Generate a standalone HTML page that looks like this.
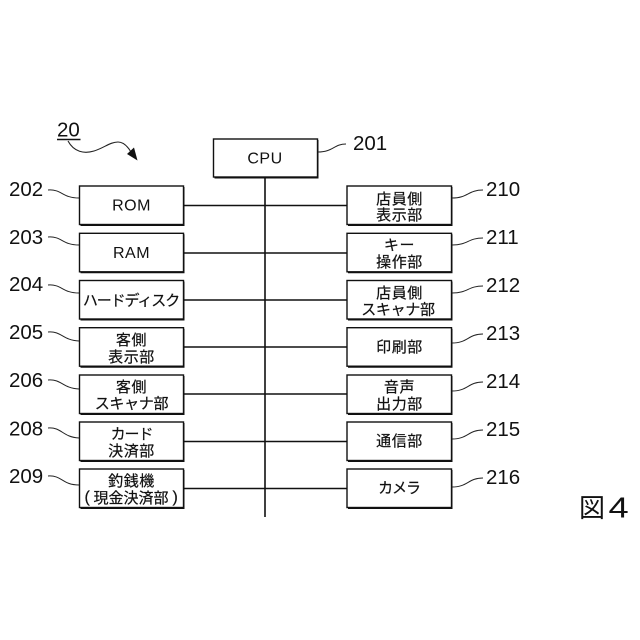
<!DOCTYPE html>
<html><head><meta charset="utf-8"><style>
html,body{margin:0;padding:0;background:#fff}
svg{display:block}
text{font-family:"Liberation Sans","Noto Sans CJK JP",sans-serif;fill:#111}
.b{fill:#fff;stroke:#111;stroke-width:1.4}
.s{fill:none;stroke:#111;stroke-width:1.6}
.w{fill:none;stroke:#222;stroke-width:1}
.n{font-size:20.5px}
.t{font-size:16px;text-anchor:middle;letter-spacing:.5px}
.j{font-size:15px;text-anchor:middle;letter-spacing:.6px;stroke:#111;stroke-width:.2}
.k{font-size:15px;text-anchor:middle;letter-spacing:-.3px;stroke:#111;stroke-width:.2}
.c{font-size:15px;text-anchor:middle;letter-spacing:-1.100px;stroke:#111;stroke-width:.2}
</style></head><body>
<svg width="640" height="640" viewBox="0 0 640 640" xmlns="http://www.w3.org/2000/svg">
<rect width="640" height="640" fill="#fff"/>
<path class="s" d="M265 178V517M184 205.500H347M184 253H347M184 300H347M184 347H347M184 394H347M184 441.500H347M184 488.500H347"/>
<g id="boxes">
<path fill="#111" d="M214.500 140h104v38.500h-104zM80.500 187h104v39h-104zM80.500 234.300h104v39h-104zM80.500 281.500h104v39h-104zM80.500 328.700h104v39h-104zM80.500 376h104v39h-104zM80.500 423h104v39h-104zM80.500 470h104v39h-104zM348 187h104.500v39H348zM348 234.300h104.500v39H348zM348 281.500h104.500v39H348zM348 328.700h104.500v39H348zM348 376h104.500v39H348zM348 423h104.500v39H348zM348 470h104.500v39H348z"/>
<rect class="b" x="213.500" y="139" width="104" height="38"/>
<rect class="b" x="79.500" y="186" width="104" height="38.500"/>
<rect class="b" x="79.500" y="233.300" width="104" height="38.500"/>
<rect class="b" x="79.500" y="280.500" width="104" height="38.500"/>
<rect class="b" x="79.500" y="327.700" width="104" height="38.500"/>
<rect class="b" x="79.500" y="375" width="104" height="38.500"/>
<rect class="b" x="79.500" y="422" width="104" height="38.500"/>
<rect class="b" x="79.500" y="469" width="104" height="38.500"/>
<rect class="b" x="347" y="186" width="104.500" height="38.500"/>
<rect class="b" x="347" y="233.300" width="104.500" height="38.500"/>
<rect class="b" x="347" y="280.500" width="104.500" height="38.500"/>
<rect class="b" x="347" y="327.700" width="104.500" height="38.500"/>
<rect class="b" x="347" y="375" width="104.500" height="38.500"/>
<rect class="b" x="347" y="422" width="104.500" height="38.500"/>
<rect class="b" x="347" y="469" width="104.500" height="38.500"/>
</g>
<g class="w">
<path class="w" d="M48 190C62 189 62 198 79 198"/>
<path class="w" d="M48 237C62 236 62 245 79 245"/>
<path class="w" d="M48 285C62 284 62 293 79 293"/>
<path class="w" d="M48 332C62 331 62 340 79 341"/>
<path class="w" d="M48 380C62 379 62 388 79 389"/>
<path class="w" d="M48 428C62 427 62 437 79 438"/>
<path class="w" d="M48 476C62 475 62 485 79 485"/>
<path class="w" d="M318 152C333 152 334 144 346 144"/>
<path class="w" d="M452 198C468 198 468 190 483 190"/>
<path class="w" d="M452 245C468 245 468 238 483 238"/>
<path class="w" d="M452 293C468 293 468 286 483 286"/>
<path class="w" d="M452 343C468 343 468 334 483 334"/>
<path class="w" d="M452 391C468 391 468 382 483 382"/>
<path class="w" d="M452 439C468 439 468 430 483 430"/>
<path class="w" d="M452 487C468 487 468 478 483 478"/>
</g>
<text class="n" x="57" y="136.500">20</text>
<path d="M57 139.500H80.500" stroke="#111" stroke-width="1.500"/>
<path class="w" d="M68 141C74 152 84 154 94 151C104 148 110 142 118 142C124 142 128 147 131 152" style="stroke-width:1.100"/>
<path fill="#111" d="M137.500 160.500L127 154L134 147.500Z"/>
<text class="n" x="353" y="150">201</text>
<text class="n" x="9" y="196">202</text>
<text class="n" x="9" y="244">203</text>
<text class="n" x="9" y="291">204</text>
<text class="n" x="9" y="339">205</text>
<text class="n" x="9" y="387">206</text>
<text class="n" x="9" y="435.500">208</text>
<text class="n" x="9" y="483">209</text>
<text class="n" x="486" y="196">210</text>
<text class="n" x="486" y="244">211</text>
<text class="n" x="486" y="292">212</text>
<text class="n" x="486" y="340">213</text>
<text class="n" x="486" y="388">214</text>
<text class="n" x="486" y="436">215</text>
<text class="n" x="486" y="484">216</text>
<text class="t" x="265" y="163.500">CPU</text>
<text class="t" x="131.500" y="210.500">ROM</text>
<text class="t" x="131.500" y="258">RAM</text>
<text class="c" x="131" y="305.500">ハードディスク</text>
<text class="j" x="131.500" y="345">客側</text>
<text class="j" x="131.500" y="362">表示部</text>
<text class="j" x="131.500" y="392">客側</text>
<text class="k" x="131.500" y="408.500">スキャナ部</text>
<text class="c" x="131.500" y="439">カード</text>
<text class="j" x="131.500" y="456">決済部</text>
<text class="j" x="131.500" y="486">釣銭機</text>
<text class="j" x="131" y="503" style="letter-spacing:0">現金決済部</text>
<text class="k" x="87" y="502" style="font-size:16px">(</text>
<text class="k" x="175" y="502" style="font-size:16px">)</text>
<text class="j" x="399.500" y="204">店員側</text>
<text class="j" x="399.500" y="220">表示部</text>
<text class="j" x="399.500" y="250">キー</text>
<text class="j" x="399.500" y="267">操作部</text>
<text class="j" x="399.500" y="298">店員側</text>
<text class="k" x="398" y="314.500">スキャナ部</text>
<text class="j" x="399.500" y="352">印刷部</text>
<text class="j" x="399.500" y="392">音声</text>
<text class="j" x="399.500" y="409">出力部</text>
<text class="j" x="399.500" y="446">通信部</text>
<text class="c" x="399" y="493">カメラ</text>
<text x="579" y="517" style="font-size:26px">図</text>
<text transform="translate(608.500 517.500) scale(1.250 1)" x="0" y="0" style="font-size:29px">4</text>
</svg>
</body></html>
